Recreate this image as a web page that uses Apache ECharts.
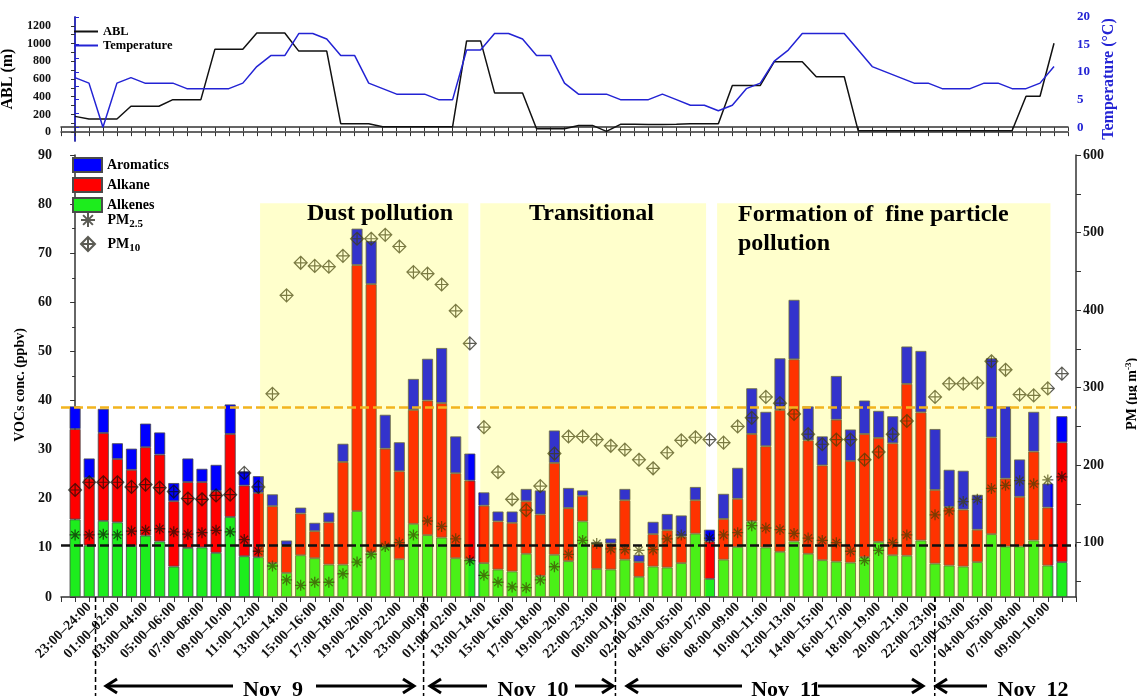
<!DOCTYPE html>
<html><head><meta charset="utf-8">
<script src="https://cdn.jsdelivr.net/npm/echarts@6/dist/echarts.min.js"></script>
<style>html,body{margin:0;padding:0;background:#fff}#c{width:1137px;height:696px}</style>
</head><body><div id="c"></div>
<script>
// ---- data (one sample per index 0..70) ----
const timeLabels = ["23:00–24:00","01:00–02:00","03:00–04:00","05:00–06:00","07:00–08:00","09:00–10:00","11:00–12:00","13:00–14:00","15:00–16:00","17:00–18:00","19:00–20:00","21:00–22:00","23:00–00:00","01:00–02:00","13:00–14:00","15:00–16:00","17:00–18:00","19:00–20:00","22:00–23:00","00:00–01:00","02:00–03:00","04:00–05:00","06:00–07:00","08:00–09:00","10:00–11:00","12:00–13:00","14:00–15:00","16:00–17:00","18:00–19:00","20:00–21:00","22:00–23:00","02:00–03:00","04:00–05:00","07:00–08:00","09:00–10:00"];
const alkenes = [15.8,10.5,15.5,15.2,10.4,12.5,11.3,6.2,10.0,10.1, 9.0,16.3,8.3,8.1,6.9,4.9,8.5,7.9,6.6,6.6, 17.5,9.1,10.3,7.7,14.9,12.6,12.1,7.9,7.7,6.9, 5.6,5.2,8.8,4.3,8.6,7.3,15.4,5.7,5.6,7.6, 4.1,6.2,6.0,6.9,12.9,3.7,7.6,10.2,15.4,10.1, 9.2,11.3,8.8,7.5,7.2,7.0,8.1,11.2,8.5,8.4, 11.5,6.8,6.4,6.2,7.1,12.8,10.3,10.3,11.5,6.4,7.1];
const alkane = [18.4,13.7,17.9,12.9,15.5,18.0,17.7,13.3,13.4,13.3, 12.6,16.9,14.4,13.1,11.6,5.5,8.5,5.5,8.6,20.9, 50.1,54.6,19.9,17.9,23.2,27.4,27.4,17.3,16.0,11.7, 9.8,9.9,10.7,12.5,18.7,10.8,5.2,5.1,5.3,12.1, 3.0,6.6,7.6,5.4,6.8,7.6,8.3,9.8,17.8,20.6, 28.9,37.1,23.1,19.3,28.9,20.7,25.1,21.2,22.8,35.0, 26.1,15.0,11.9,11.6,6.6,19.7,13.8,10.1,18.1,11.8,24.4];
const aromatics = [4.6,4.0,4.9,3.2,4.3,4.8,4.5,3.7,4.8,2.7, 5.3,6.0,2.9,3.4,2.4,1.1,1.2,1.7,2.0,3.7, 7.4,8.8,6.9,5.9,6.3,8.5,11.2,7.5,5.5,2.7, 2.0,2.3,2.5,4.9,6.6,4.1,1.1,0.4,1.0,2.3, 1.5,2.5,3.3,4.3,2.7,2.4,5.1,6.3,9.3,7.0, 10.5,12.1,6.9,5.9,8.9,6.4,6.8,5.5,5.5,7.6, 12.5,12.4,7.6,7.9,7.1,16.1,14.7,7.6,8.1,4.9,5.3];
const pm25 = [110,110,111,110,115,116,118,114,111,113, 116,114,104,89,70,52,45,49,49,60, 75,85,95,100,110,128,121,105,77,58, 49,43,42,52,69,85,103,99,92,91, 90,91,105,110,null,106,110,113,122,119, 117,112,106,103,100,89,77,90,100,110, null,136,141,153,156,170,174,180,176,181,185];
const pm10 = [168,178,178,178,172,175,171,166,157,156, 161,162,190,172,292,419,461,457,456,470, 492,492,497,482,449,447,433,399,357,249, 191,156,142,173,215,237,237,233,225,220, 207,196,216,232,236,233,229,250,261,288, 280,266,240,227,233,233,207,217,240,257, null,288,305,305,306,334,323,291,290,299,318];
const abl = [178,148,148,148,292,292,292,367,367,367, 935,935,935,1120,1120,1120,915,915,915,95, 95,95,62,62,62,62,62,62,1030,1030, 443,443,443,38,38,38,76,76,8,88, 88,85,85,88,95,95,95,527,527,527, 795,795,795,625,625,625,15,15,15,15, 15,15,15,15,15,15,15,15,405,405,1004];
const temperature = [9,8,0,8,9,8,8,8,7,7, 7,7,8,11,13,13,17,17,16,13, 13,8,7,6,6,6,5,5,14,14, 17,17,16,13,13,8,6,6,6,5, 5,5,6,5,4,4,3,4,7,8, 12,14,17,17,17,17,14,11,10,9, 8,8,7,7,7,8,8,7,7,8,11];
const refLines = [38.65, 10.45];
const periods = [
  {name: 'Dust pollution', from: 13.12, to: 27.9, top: 80.2},
  {name: 'Transitional', from: 28.74, to: 44.76, top: 80.2},
  {name: 'Formation of fine particle pollution', from: 45.54, to: 69.19, top: 80.2}
];
const dayBoundaries = [1.45, 24.72, 38.33, 60.98];
const dayNames = ['Nov  9', 'Nov  10', 'Nov  11', 'Nov  12'];

// ---- chart ----
const SERIF = '"Liberation Serif", "Times New Roman", serif';
const T = (size, color) => ({fontFamily: SERIF, fontWeight: 'bold', fontSize: size, color: color || '#000'});
const AX = '#333';
const BLUE = '#2323d4';
const MK = 'rgba(15,15,5,0.85)';
// category slots: one empty slot before and after the 71 samples; odd samples carry a time label
const categories = [''].concat(alkenes.map((_, i) => (i % 2 === 1 && (i - 1) / 2 < timeLabels.length) ? timeLabels[(i - 1) / 2] : ''), ['']);
const pad = arr => [null].concat(arr, [null]);
const pair = arr => arr.map((v, i) => v == null ? null : [i, v]).filter(Boolean);
const range = (a, b, s) => { const r = []; for (let v = a; v <= b + 1e-9; v += s) r.push(+v.toFixed(2)); return r; };

const ASTER = 'path://M10,0L10,20M0,10L20,10M3,3L17,17M17,3L3,17';
const DIAM = 'path://M10,0L20,10L10,20L0,10ZM10,0L10,20M0,10L20,10';
const barStyle = c => ({color: c, borderColor: '#4a4a4a', borderWidth: 0.8});

const chart = echarts.init(document.getElementById('c'));
const option = {
  animation: false,
  backgroundColor: '#fff',
  textStyle: {fontFamily: SERIF},
  grid: [
    {left: 61, right: 61, top: 155, height: 442, outerBoundsMode: 'none'},
    {left: 61, right: 69, top: 17, height: 124, outerBoundsMode: 'none'}
  ],
  legend: [
    {data: ['Aromatics', 'Alkane', 'Alkenes'], left: 72, top: 157, orient: 'vertical', icon: 'rect',
     itemWidth: 29, itemHeight: 14, itemGap: 4, selectedMode: false, textStyle: T(14), padding: 0},
    {data: ['PM2.5', 'PM10'], left: 80, top: 212, orient: 'vertical', itemWidth: 29, itemHeight: 14,
     itemGap: 6, selectedMode: false, padding: 0, symbolKeepAspect: true,
     formatter: n => n === 'PM2.5' ? '{m|PM}{s|2.5}' : '{m|PM}{s|10}',
     textStyle: Object.assign(T(14), {rich: {m: T(14), s: Object.assign(T(11), {padding: [9, 0, 0, 0]})}})},
    {data: ['ABL', 'Temperature'], left: 73, top: 25, orient: 'vertical', itemWidth: 24, itemHeight: 14,
     itemGap: 1, selectedMode: false, padding: 0, textStyle: T(12.5), itemStyle: {opacity: 0}}
  ],
  xAxis: [
    {type: 'category', gridIndex: 0, data: categories, boundaryGap: false, position: 'bottom',
     axisLine: {show: true, lineStyle: {color: AX, width: 1.5}},
     axisTick: {show: true, interval: 0, length: 5, lineStyle: {color: AX, width: 1}},
     splitLine: {show: false},
     axisLabel: Object.assign(T(14, '#111'), {rotate: 45, margin: 8, interval: 0})},
    {type: 'value', gridIndex: 1, min: -1, max: 71, interval: 1, position: 'bottom',
     axisLine: {show: true, lineStyle: {color: AX, width: 1.5}},
     axisTick: {show: true, length: 4, lineStyle: {color: AX}},
     axisLabel: {show: false}, splitLine: {show: false}},
    {type: 'value', gridIndex: 1, min: -1, max: 71, interval: 1, position: 'top',
     axisLine: {show: true, lineStyle: {color: AX, width: 1.5}},
     axisTick: {show: true, inside: true, length: 4, lineStyle: {color: AX}},
     axisLabel: {show: false}, splitLine: {show: false}},
    {type: 'value', gridIndex: 0, min: -1, max: 71, show: false}
  ],
  yAxis: [
    {type: 'value', gridIndex: 0, min: 0, max: 90, interval: 10, position: 'left',
     axisLine: {show: true, lineStyle: {color: AX, width: 1.5}},
     axisTick: {show: true, length: 5, lineStyle: {color: AX}},
     minorTick: {show: true, splitNumber: 2, length: 3, lineStyle: {color: AX}},
     splitLine: {show: false},
     axisLabel: Object.assign(T(14, '#111'), {margin: 9}),
     name: 'VOCs conc. (ppbv)', nameLocation: 'middle', nameRotate: 90, nameGap: 29,
     nameTextStyle: Object.assign(T(14), {padding: [0, 18, 0, 0]})},
    {type: 'value', gridIndex: 0, min: 30, max: 600, position: 'right',
     axisLine: {show: true, lineStyle: {color: AX, width: 1.5}},
     axisTick: {show: true, length: 5, customValues: range(50, 600, 50), lineStyle: {color: AX}},
     splitLine: {show: false},
     axisLabel: Object.assign(T(14, '#111'), {margin: 7, customValues: range(100, 600, 100)}),
     name: 'PM (μg m{sup|-3})', nameLocation: 'middle', nameRotate: 90, nameGap: 48,
     nameTextStyle: Object.assign(T(14), {padding: [0, 36, 0, 0], rich: {sup: Object.assign(T(9), {padding: [0, 0, 8, 0]})}})},
    {type: 'value', gridIndex: 1, min: -100, max: 1300, position: 'left',
     axisLine: {show: true, lineStyle: {color: AX, width: 1.5}},
     axisTick: {show: true, length: 4, customValues: range(0, 1200, 100), lineStyle: {color: AX}},
     splitLine: {show: false},
     axisLabel: Object.assign(T(12, '#111'), {margin: 10, customValues: range(0, 1200, 200), formatter: v => String(v)}),
     name: 'ABL (m)', nameLocation: 'middle', nameRotate: 90, nameGap: 35, nameTextStyle: T(16)},
    {type: 'value', gridIndex: 1, min: -2.5, max: 20, position: 'right',
     axisLine: {show: true, lineStyle: {color: BLUE, width: 1.5}},
     axisTick: {show: true, length: 4, customValues: range(0, 20, 2.5), lineStyle: {color: BLUE}},
     splitLine: {show: false},
     axisLabel: Object.assign(T(13, BLUE), {margin: 9, customValues: [0, 5, 10, 15, 20], formatter: v => String(v)}),
     name: 'Temperature (°C)', nameLocation: 'middle', nameRotate: 90, nameGap: 30, nameTextStyle: T(16, BLUE)}
  ],
  series: [
    {name: 'Alkenes', type: 'bar', stack: 'voc', xAxisIndex: 0, yAxisIndex: 0, barWidth: 11, data: pad(alkenes), itemStyle: barStyle('#1ded1d'), z: 2},
    {name: 'Alkane', type: 'bar', stack: 'voc', xAxisIndex: 0, yAxisIndex: 0, barWidth: 11, data: pad(alkane), itemStyle: barStyle('#ff0000'), z: 2},
    {name: 'Aromatics', type: 'bar', stack: 'voc', xAxisIndex: 0, yAxisIndex: 0, barWidth: 11, data: pad(aromatics), itemStyle: barStyle('#0000ff'), z: 2},
    {name: 'PM2.5', type: 'scatter', xAxisIndex: 0, yAxisIndex: 1, symbol: ASTER, symbolSize: 11, data: pad(pm25),
     itemStyle: {color: 'transparent', borderColor: MK, borderWidth: 1.3}, z: 3},
    {name: 'PM10', type: 'scatter', xAxisIndex: 0, yAxisIndex: 1, symbol: DIAM, symbolSize: 13, data: pad(pm10),
     itemStyle: {color: 'transparent', borderColor: MK, borderWidth: 1.2}, z: 3},
    {name: 'periods', type: 'line', xAxisIndex: 3, yAxisIndex: 0, data: [], z: 10,
     markArea: {silent: true, z: 10, itemStyle: {color: 'rgba(255,255,0,0.2)', borderWidth: 0},
       data: periods.map(p => [{xAxis: p.from, yAxis: 0}, {xAxis: p.to, yAxis: p.top}])}},
    {name: 'refs', type: 'line', xAxisIndex: 3, yAxisIndex: 0, data: [], z: 11,
     markLine: {silent: true, z: 11, symbol: ['none', 'none'], label: {show: false},
       lineStyle: {type: [9, 4], width: 2.5},
       data: [{yAxis: refLines[0], lineStyle: {color: '#f2b41e'}}, {yAxis: refLines[1], lineStyle: {color: '#111'}}]}},
    {name: 'ABL', type: 'line', xAxisIndex: 1, yAxisIndex: 2, symbol: 'none', data: pair(abl),
     lineStyle: {color: '#111', width: 1.5}, itemStyle: {color: '#111'}},
    {name: 'Temperature', type: 'line', xAxisIndex: 1, yAxisIndex: 3, symbol: 'none', data: pair(temperature),
     lineStyle: {color: BLUE, width: 1.5}, itemStyle: {color: BLUE}}
  ]
};
chart.setOption(option);

// ---- annotations ----
const g = [];
const xpx = v => chart.convertToPixel({xAxisIndex: 3}, v);
const y0 = chart.convertToPixel({yAxisIndex: 0}, 0);
dayBoundaries.forEach(b => {
  const x = xpx(b);
  g.push({type: 'line', z: 100, shape: {x1: x, y1: y0, x2: x, y2: 700}, style: {stroke: '#000', lineWidth: 1.5, lineDash: [5, 3]}});
});
function arrow(x1, x2, y, head) {
  g.push({type: 'line', z: 100, shape: {x1: x1, y1: y, x2: x2, y2: y}, style: {stroke: '#000', lineWidth: 3}});
  const tip = head === 'left' ? x1 : x2, d = head === 'left' ? 1 : -1;
  g.push({type: 'polyline', z: 100, shape: {points: [[tip + d * 11, y - 7], [tip, y], [tip + d * 11, y + 7]]},
    style: {stroke: '#000', lineWidth: 3, fill: null}});
}
const AY = 686;
arrow(106, 233, AY, 'left'); arrow(316, 414, AY, 'right');
arrow(430, 487, AY, 'left'); arrow(575, 613, AY, 'right');
arrow(627, 742, AY, 'left'); arrow(818, 923, AY, 'right');
arrow(936, 987, AY, 'left');
[[273, dayNames[0]], [533, dayNames[1]], [786, dayNames[2]], [1033, dayNames[3]]].forEach(([x, s]) => {
  g.push({type: 'text', z: 101, x: x, y: 690, style: {text: s, fill: '#000', font: 'bold 22px ' + SERIF, align: 'center', verticalAlign: 'middle'}});
});
const pt = (x, y, s) => g.push({type: 'text', z: 101, x: x, y: y, style: {text: s, fill: '#000', font: 'bold 24px ' + SERIF, align: 'left', verticalAlign: 'middle'}});
pt(307, 214, 'Dust pollution');
pt(529, 214, 'Transitional');
pt(738, 215, 'Formation of  fine particle');
pt(738, 244, 'pollution');
chart.setOption({graphic: g});
</script></body></html>
